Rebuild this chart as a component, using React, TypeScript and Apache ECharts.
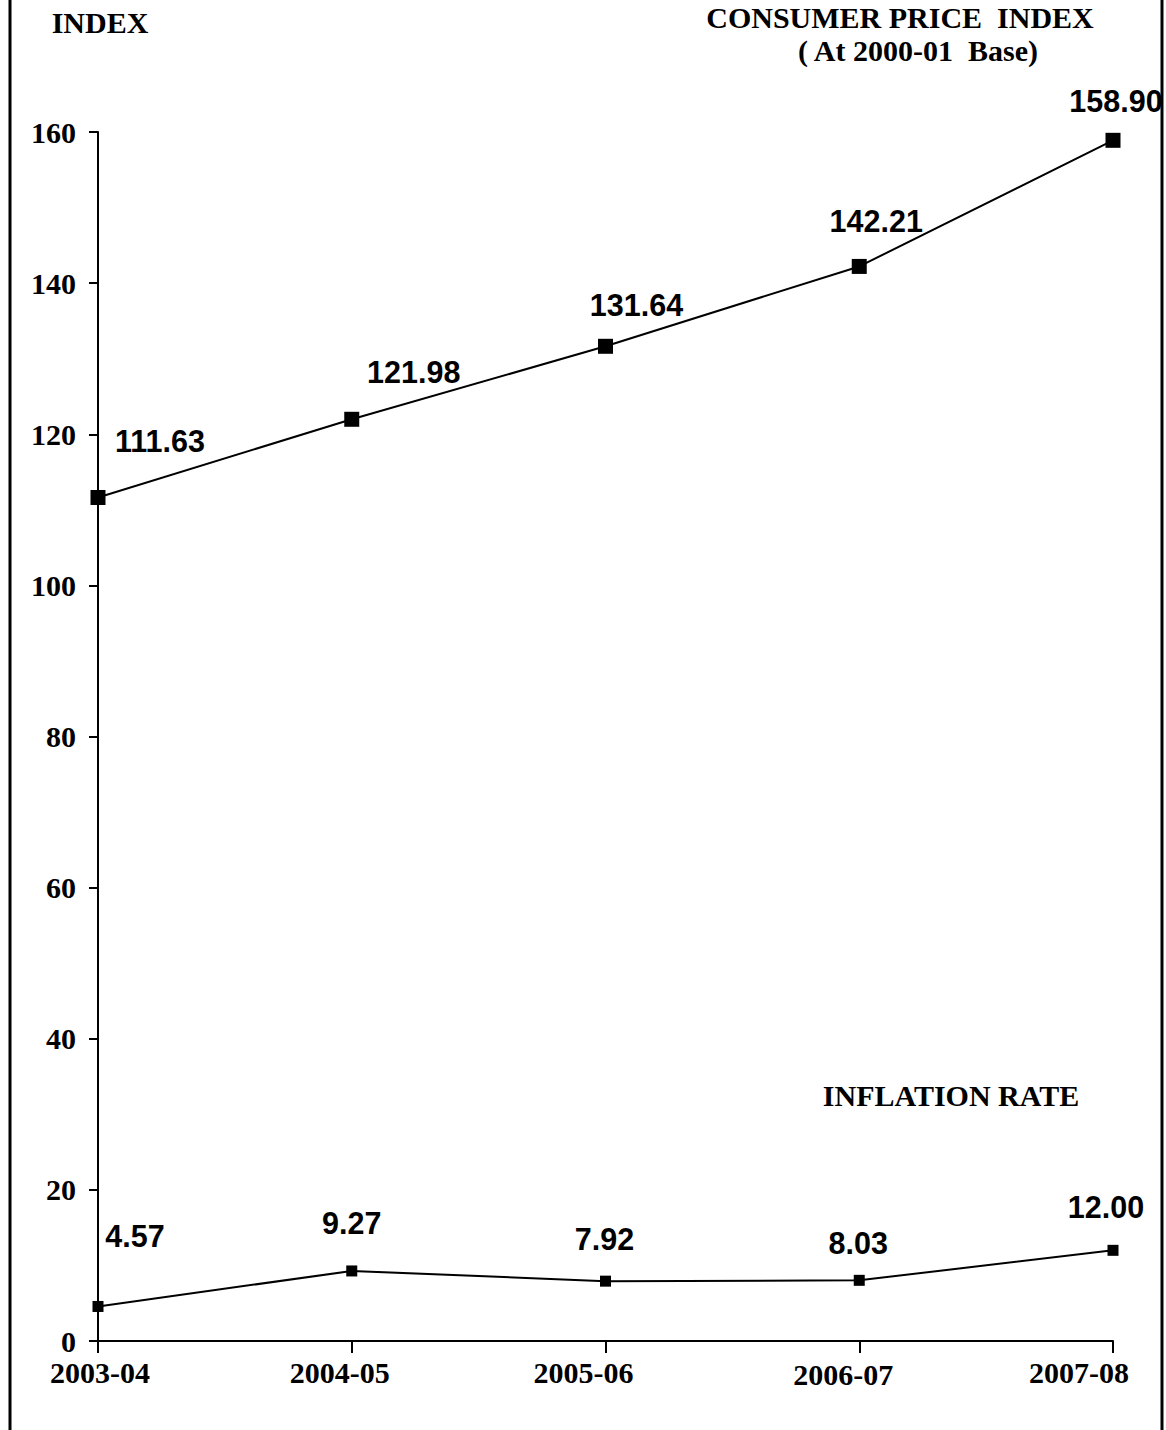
import React, { useEffect, useRef } from "react";
import * as echarts from "echarts";

const categories = ["2003-04", "2004-05", "2005-06", "2006-07", "2007-08"];
const cpiValues = [111.63, 121.98, 131.64, 142.21, 158.9];
const inflationValues = [4.57, 9.27, 7.92, 8.03, 12.0];
const cpiLabelOffsets = [[62, -56], [62, -47], [31, -41], [17, -45], [3, -39]];
const inflLabelOffsets = [[37, -70], [0, -48], [-1, -42], [-1, -37], [-7, -43]];
const categoryLabelPadding = [[0, 0, 0, 4], [0, 24, 0, 0], [0, 44, 0, 0], [2, 32, 0, 0], [0, 68, 0, 0]];

const serif = "'Liberation Serif', 'Times New Roman', serif";
const sans = "'Liberation Sans', Arial, sans-serif";

export default function App() {
  const ref = useRef<HTMLDivElement>(null);
  useEffect(() => {
    if (!ref.current) return;
    const chart = echarts.init(ref.current, null, { renderer: "svg" });
    const labelStyle = {
      show: true,
      position: "inside",
      fontFamily: sans,
      fontWeight: "bold",
      fontSize: 30.5,
      color: "#000",
    };
    chart.setOption({
      animation: false,
      backgroundColor: "#fff",
      grid: { left: 98, right: 53, top: 132, bottom: 89, containLabel: false },
      xAxis: {
        type: "category",
        data: categories.map((c, i) => ({
          value: c,
          textStyle: { padding: categoryLabelPadding[i] },
        })),
        boundaryGap: false,
        axisLine: { lineStyle: { color: "#000", width: 2 } },
        axisTick: { show: true, length: 12, lineStyle: { color: "#000", width: 2 } },
        axisLabel: {
          fontFamily: serif,
          fontWeight: "bold",
          fontSize: 30,
          color: "#000",
          margin: 16,
        },
        splitLine: { show: false },
      },
      yAxis: {
        type: "value",
        min: 0,
        max: 160,
        interval: 20,
        axisLine: { show: true, lineStyle: { color: "#000", width: 2 } },
        axisTick: { show: true, length: 9, lineStyle: { color: "#000", width: 2 } },
        axisLabel: {
          fontFamily: serif,
          fontWeight: "bold",
          fontSize: 30,
          color: "#000",
          margin: 22,
        },
        splitLine: { show: false },
      },
      graphic: [
        { type: "line", shape: { x1: 10, y1: 0, x2: 10, y2: 1430 }, style: { stroke: "#000", lineWidth: 3 } },
        { type: "line", shape: { x1: 1162, y1: 0, x2: 1162, y2: 1430 }, style: { stroke: "#000", lineWidth: 3 } },
        {
          type: "text", x: 100, y: 22,
          style: { text: "INDEX", font: `bold 30px ${serif}`, fill: "#000", align: "center", verticalAlign: "middle" },
        },
        {
          type: "text", x: 900, y: 17,
          style: { text: "CONSUMER PRICE  INDEX", font: `bold 30px ${serif}`, fill: "#000", align: "center", verticalAlign: "middle" },
        },
        {
          type: "text", x: 918, y: 50,
          style: { text: "( At 2000-01  Base)", font: `bold 30px ${serif}`, fill: "#000", align: "center", verticalAlign: "middle" },
        },
        {
          type: "text", x: 951, y: 1095,
          style: { text: "INFLATION RATE", font: `bold 30px ${serif}`, fill: "#000", align: "center", verticalAlign: "middle" },
        },
      ],
      series: [
        {
          name: "CPI",
          type: "line",
          data: cpiValues.map((v, i) => ({
            value: v,
            label: { ...labelStyle, offset: cpiLabelOffsets[i] },
          })),
          symbol: "rect",
          symbolSize: 15,
          itemStyle: { color: "#000" },
          lineStyle: { color: "#000", width: 2 },
          label: { ...labelStyle, formatter: (p: any) => p.value.toFixed(2) },
        },
        {
          name: "Inflation",
          type: "line",
          data: inflationValues.map((v, i) => ({
            value: v,
            label: { ...labelStyle, offset: inflLabelOffsets[i] },
          })),
          symbol: "rect",
          symbolSize: 11,
          itemStyle: { color: "#000" },
          lineStyle: { color: "#000", width: 2 },
          label: { ...labelStyle, formatter: (p: any) => p.value.toFixed(2) },
        },
      ],
    });
    return () => chart.dispose();
  }, []);
  return (
    <div
      ref={ref}
      style={{ position: "absolute", left: 0, top: 0, width: 1166, height: 1430 }}
    />
  );
}
